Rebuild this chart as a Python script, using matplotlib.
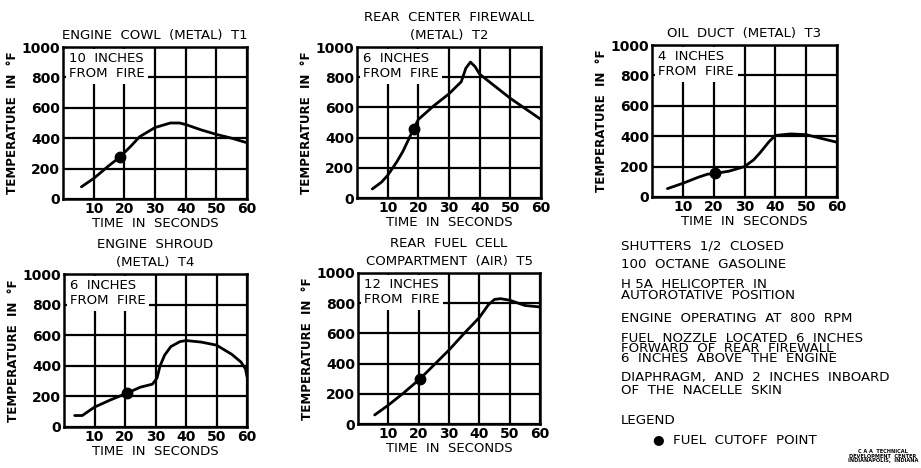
import matplotlib
matplotlib.use('Agg')
import matplotlib.pyplot as plt

plt.rcParams['font.family'] = ['DejaVu Sans']

# temperature curves (time s, temp F)
t1_time = [6, 10, 15, 18.5, 22, 25, 30, 35, 38, 40, 45, 50, 55, 60]
t1_temp = [80, 135, 220, 275, 345, 410, 470, 500, 500, 490, 455, 425, 400, 370]
t1_cut = (18.5, 275)

t2_time = [5, 8, 10, 13, 15, 18.5, 20, 25, 30, 34, 35.5, 37, 38.5, 40, 45, 50, 55, 60]
t2_temp = [60, 105, 150, 240, 310, 460, 520, 610, 690, 770, 860, 900, 870, 820, 740, 660, 590, 520]
t2_cut = (18.5, 460)

t3_time = [5, 10, 15, 18, 20.5, 25, 30, 33, 35, 38, 40, 45, 50, 55, 60]
t3_temp = [55, 90, 130, 150, 155, 170, 200, 245, 290, 365, 405, 415, 410, 385, 360]
t3_cut = (20.5, 155)

t4_time = [3.5, 6, 10, 15, 20.5, 25, 29, 30.5, 31.5, 33, 35, 38, 40, 45, 50, 55, 58, 59.5, 60]
t4_temp = [75, 75, 130, 175, 220, 260, 280, 320, 400, 470, 525, 558, 565, 555, 535, 475, 425, 380, 330]
t4_cut = (20.5, 220)

t5_time = [5.5, 10, 15, 20.5, 25, 30, 35, 40, 43, 45, 47, 50, 55, 60]
t5_temp = [60, 125, 205, 300, 390, 490, 600, 705, 790, 825, 830, 820, 785, 775]
t5_cut = (20.5, 300)

titles = ['ENGINE  COWL  (METAL)  T1',
          'REAR  CENTER  FIREWALL\n(METAL)  T2',
          'OIL  DUCT  (METAL)  T3',
          'ENGINE  SHROUD\n(METAL)  T4',
          'REAR  FUEL  CELL\nCOMPARTMENT  (AIR)  T5']
distances = ['10  INCHES\nFROM  FIRE', '6  INCHES\nFROM  FIRE', '4  INCHES\nFROM  FIRE',
             '6  INCHES\nFROM  FIRE', '12  INCHES\nFROM  FIRE']

x_ticks = [10, 20, 30, 40, 50, 60]
y_ticks = [0, 200, 400, 600, 800, 1000]

notes = ['SHUTTERS  1/2  CLOSED',
         '100  OCTANE  GASOLINE',
         'H 5A  HELICOPTER  IN\nAUTOROTATIVE  POSITION',
         'ENGINE  OPERATING  AT  800  RPM',
         'FUEL  NOZZLE  LOCATED  6  INCHES\nFORWARD  OF  REAR  FIREWALL\n6  INCHES  ABOVE  THE  ENGINE',
         'DIAPHRAGM,  AND  2  INCHES  INBOARD\nOF  THE  NACELLE  SKIN',
         'LEGEND']
# centre y (px) and line spacing of each note block
note_y = [246, 264, 290, 318, 348.5, 384, 420]
note_ls = [1.0, 1.0, 0.88, 1.0, 0.66, 1.0, 1.0]

W, H = 921, 468
fig = plt.figure(figsize=(W / 100, H / 100), dpi=100)

# axes boxes in pixels: left, right, top, bottom
boxes = [(63, 247, 47, 199), (357, 541, 47, 198), (652, 837, 45, 197),
         (64, 247, 274, 427), (358, 540, 273, 424)]
series = [(t1_time, t1_temp, t1_cut), (t2_time, t2_temp, t2_cut), (t3_time, t3_temp, t3_cut),
          (t4_time, t4_temp, t4_cut), (t5_time, t5_temp, t5_cut)]

for i, (l, r, t, b) in enumerate(boxes):
    ax = fig.add_axes([l / W, 1 - b / H, (r - l) / W, (b - t) / H])
    xs, ys, cut = series[i]
    ax.plot(xs, ys, color='black', linewidth=2.0, zorder=4, solid_capstyle='round')
    ax.plot(cut[0], cut[1], 'o', color='black', markersize=7.5, zorder=5)
    ax.set_xlim(0, 60)
    ax.set_ylim(0, 1000)
    ax.set_xticks(x_ticks)
    ax.set_yticks(y_ticks)
    ax.grid(True, color='black', linewidth=1.6)
    ax.tick_params(length=0, labelsize=10, pad=2)
    for lab in ax.get_xticklabels() + ax.get_yticklabels():
        lab.set_fontweight('bold')
    for s in ax.spines.values():
        s.set_linewidth(1.8)
    ax.set_title(titles[i], fontsize=9.5, pad=6, linespacing=1.45)
    ax.set_xlabel('TIME  IN  SECONDS', fontsize=9.5, labelpad=1)
    ax.set_ylabel('TEMPERATURE  IN  °F', fontsize=8.6, labelpad=2, fontweight='bold')
    ax.text(0.035, 0.965, distances[i], transform=ax.transAxes, va='top', ha='left',
            fontsize=9.5, linespacing=1.2, zorder=3,
            bbox=dict(facecolor='white', edgecolor='none', pad=2.5))

for note, y, ls in zip(notes, note_y, note_ls):
    fig.text(621 / W, 1 - y / H, note, fontsize=9.6, va='center', ha='left', linespacing=ls)

fig.text(653 / W, 1 - 440 / H, '●  FUEL  CUTOFF  POINT', fontsize=9.6, va='center', ha='left')
fig.text(918 / W, 1 - 449 / H, 'C A A  TECHNICAL\nDEVELOPMENT  CENTER\nINDIANAPOLIS,  INDIANA',
         fontsize=3.6, va='top', ha='right', multialignment='center', linespacing=0.9,
         fontweight='bold')

fig.savefig('out.png', dpi=100)
